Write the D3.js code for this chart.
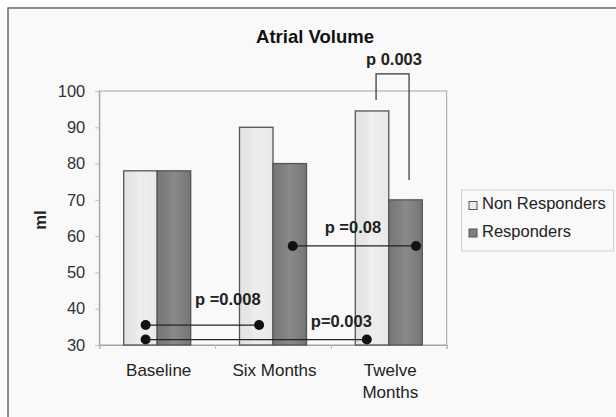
<!DOCTYPE html>
<html><head><meta charset="utf-8">
<script src="https://cdn.jsdelivr.net/npm/d3@7/dist/d3.min.js"></script>
<style>body{margin:0;background:#fff;}svg{display:block;font-family:"Liberation Sans",Arial,sans-serif;}</style>
</head><body>
<script>
const categories = [["Baseline"], ["Six Months"], ["Twelve", "Months"]];
const series = ["Non Responders", "Responders"];
const nonResponders = [78, 90, 94.5];
const responders = [78, 80, 70];
const yTicks = [30, 40, 50, 60, 70, 80, 90, 100];
// comparisons: positions on a category-index axis (0..3), values in ml
const compFrom = [0.40, 0.40, 1.67];
const compTo = [1.38, 2.31, 2.735];
const compValue = [35.5, 31.5, 57.3];
const compLabel = ["p =0.008", "p=0.003", "p =0.08"];
const compLabelPos = [1.11, 2.09, 2.19];
const compLabelValue = [41, 35, 60.9];
// bracket between twelve-month bars
const bracketX = [2.39, 2.39, 2.675, 2.675];
const bracketV = [97.5, 104.7, 104.7, 75.5];
const bracketLabel = "p 0.003";
const bracketLabelPos = 2.545;
const bracketLabelValue = 107.1;

const W = 616, H = 417;
const svg = d3.select("body").append("svg").attr("width", W).attr("height", H);
const defs = svg.append("defs");
function grad(id, stops) {
  const g = defs.append("linearGradient").attr("id", id).attr("x1", 0).attr("x2", 1).attr("y1", 0).attr("y2", 0);
  stops.forEach(s => g.append("stop").attr("offset", s[0]).attr("stop-color", s[1]));
}
grad("gNR", [[0, "#e3e3e3"], [0.3, "#e6e6e6"], [0.45, "#eeeeee"], [0.7, "#ececec"], [1, "#e8e8e8"]]);
grad("gR", [[0, "#767676"], [0.35, "#828282"], [0.5, "#8a8a8a"], [0.75, "#808080"], [1, "#747474"]]);
const fills = ["url(#gNR)", "url(#gR)"];
const legendFills = ["#ebebeb", "#808080"];

// outer frame
svg.append("rect").attr("x", 8).attr("y", 8).attr("width", W).attr("height", H)
  .attr("fill", "#f9f9f9").attr("stroke", "#6a6a6a").attr("stroke-width", 1.5);

const L = 99.3, R = 446.7, T = 91, B = 345;
const y = d3.scaleLinear().domain([30, 100]).range([B, T]);
const x = d3.scaleBand().domain(d3.range(categories.length)).range([L, R]).paddingInner(0.4214).paddingOuter(0.2107);
const xs = d3.scaleBand().domain(d3.range(series.length)).range([0, x.bandwidth()]);
const xi = d3.scaleLinear().domain([0, 3]).range([L, R]);

// plot box
svg.append("rect").attr("x", L).attr("y", T).attr("width", R - L).attr("height", B - T)
  .attr("fill", "none").attr("stroke", "#a3a3a3").attr("stroke-width", 1);

// y axis
const yAxis = svg.append("g").attr("transform", `translate(${L},0)`)
  .call(d3.axisLeft(y).tickValues(yTicks).tickSize(4).tickPadding(10).tickFormat(d3.format("d")));
yAxis.select(".domain").attr("stroke", "#a3a3a3");
yAxis.selectAll(".tick line").attr("stroke", "#bbb");
yAxis.selectAll("text").attr("font-size", 16.5).attr("fill", "#333").attr("font-family", "Liberation Sans, Arial, sans-serif");

// x boundary ticks
const xAxis = svg.append("g").attr("transform", `translate(0,${B})`)
  .call(d3.axisBottom(xi).tickValues([0, 1, 2, 3]).tickSize(4).tickFormat(""));
xAxis.select(".domain").attr("stroke", "#a3a3a3");
xAxis.selectAll(".tick line").attr("stroke", "#bbb");

// bars
const data = [nonResponders, responders];
data.forEach((vals, si) => {
  svg.append("g").selectAll("rect").data(vals).join("rect")
    .attr("x", (d, i) => x(i) + xs(si))
    .attr("y", d => y(d))
    .attr("width", xs.bandwidth())
    .attr("height", d => B - y(d))
    .attr("fill", fills[si])
    .attr("stroke", "#555").attr("stroke-width", 1.3);
});

// category labels
categories.forEach((lines, i) => {
  const t = svg.append("text").attr("text-anchor", "middle").attr("font-size", 17).attr("fill", "#222");
  lines.forEach((ln, k) => t.append("tspan").attr("x", x(i) + x.bandwidth() / 2 + 1.5).attr("y", 375.5 + k * 22).text(ln));
});

// comparisons
compFrom.forEach((f, i) => {
  const g = svg.append("g");
  g.append("line").attr("x1", xi(f)).attr("x2", xi(compTo[i])).attr("y1", y(compValue[i])).attr("y2", y(compValue[i]))
    .attr("stroke", "#222").attr("stroke-width", 1.3);
  [f, compTo[i]].forEach(p => g.append("circle").attr("cx", xi(p)).attr("cy", y(compValue[i])).attr("r", 5).attr("fill", "#111"));
  g.append("text").attr("x", xi(compLabelPos[i])).attr("y", y(compLabelValue[i])).attr("text-anchor", "middle")
    .attr("font-size", 16.5).attr("font-weight", "bold").attr("fill", "#222").text(compLabel[i]);
});

// bracket
const line = d3.line().x(d => xi(d[0])).y(d => y(d[1]));
svg.append("path").attr("d", line(bracketX.map((b, i) => [b, bracketV[i]])))
  .attr("fill", "none").attr("stroke", "#333").attr("stroke-width", 1.2);
svg.append("text").attr("x", xi(bracketLabelPos)).attr("y", y(bracketLabelValue)).attr("text-anchor", "middle")
  .attr("font-size", 16.5).attr("font-weight", "bold").attr("fill", "#222").text(bracketLabel);

// title
svg.append("text").attr("x", 315).attr("y", 43).attr("text-anchor", "middle")
  .attr("font-size", 18.5).attr("font-weight", "bold").attr("fill", "#111").text("Atrial Volume");

// y label
svg.append("text").attr("transform", "translate(46,220) rotate(-90)").attr("text-anchor", "middle")
  .attr("font-size", 16.5).attr("font-weight", "bold").attr("fill", "#222").text("ml");

// legend
const lg = svg.append("g");
lg.append("rect").attr("x", 461.5).attr("y", 190).attr("width", 152).attr("height", 61)
  .attr("fill", "#f9f9f9").attr("stroke", "#cfcfcf");
series.forEach((s, i) => {
  lg.append("rect").attr("x", 469).attr("y", 201.5 + i * 27.5).attr("width", 8).attr("height", 8)
    .attr("fill", legendFills[i]).attr("stroke", "#555");
  lg.append("text").attr("x", 482).attr("y", 208.5 + i * 28.5).attr("font-size", 16.5).attr("fill", "#222").text(s);
});
</script>
</body></html>
